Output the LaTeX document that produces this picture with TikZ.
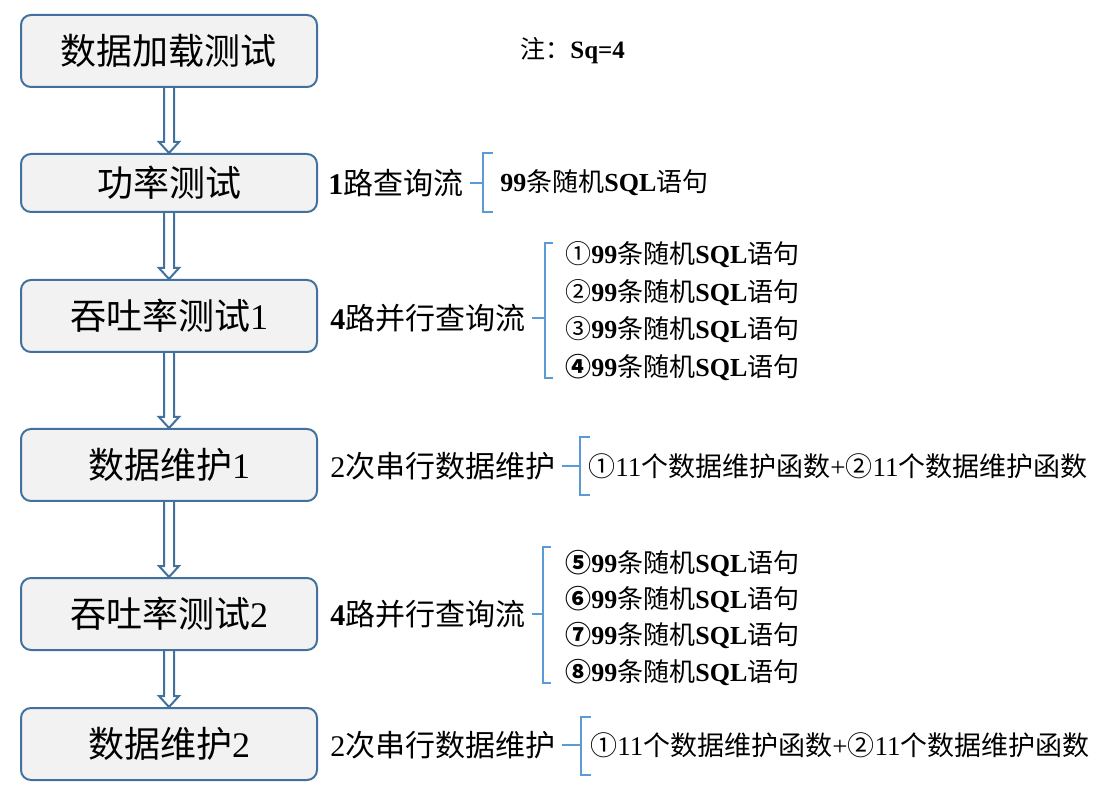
\documentclass[tikz,border=0pt]{standalone}
\usepackage{fontspec}
\setmainfont{Liberation Serif}
\newfontfamily\zh{Noto Sans CJK SC}
\usetikzlibrary{positioning,calc}

\definecolor{boxblue}{HTML}{41719C}
\definecolor{boxfill}{HTML}{F2F2F2}
\definecolor{braceblue}{HTML}{5B9BD5}

\newcommand{\sqlitem}[1]{{\zh #1}\textbf{99}{\zh 条随机}\textbf{SQL}{\zh 语句}}
\newcommand{\maintfn}{{\zh ①}11{\zh 个数据维护函数}+{\zh ②}11{\zh 个数据维护函数}}

\begin{document}
\begin{tikzpicture}[x=0.5pt,y=-0.5pt,on grid,
    stage/.style={draw=boxblue,fill=boxfill,line width=1pt,rounded corners=5pt,
      minimum width=148pt,minimum height=36pt,inner sep=0pt,
      font=\fontsize{18}{20}\selectfont\zh},
    side/.style={anchor=west,inner sep=3pt,font=\fontsize{15}{17}\selectfont},
    item/.style={anchor=west,inner sep=0pt,font=\fontsize{13}{15}\selectfont},
    flow/.style={draw=boxblue,line width=1pt,line join=miter,
      to path={($(\tikztostart.south)+(-5,0)$) -- ($(\tikztotarget.north)+(-5,-11)$)
        -- ($(\tikztotarget.north)+(-10,-11)$) -- (\tikztotarget.north)
        -- ($(\tikztotarget.north)+(10,-11)$) -- ($(\tikztotarget.north)+(5,-11)$)
        -- ($(\tikztostart.south)+(5,0)$)}},
    brace/.style={draw=braceblue,line width=1pt}]
    \useasboundingbox (0,0) rectangle (1114,796);

    	% stages
    	\node[stage] (load) at (169,51) {数据加载测试};
    	\node[stage,minimum height=29pt] (power) [below=66pt of load] {功率测试};
    	\node[stage] (thru1) [below=66.5pt of power] {吞吐率测试{\rmfamily 1}};
    	\node[stage] (maint1) [below=74.5pt of thru1] {数据维护{\rmfamily 1}};
    	\node[stage] (thru2) [below=74.5pt of maint1] {吞吐率测试{\rmfamily 2}};
    	\node[stage] (maint2) [below=65pt of thru2] {数据维护{\rmfamily 2}};

    	\node[item,font=\fontsize{12.5}{14}\selectfont] (note) at (520,51) {{\zh 注：}\textbf{Sq=4}};

    	% streams
    	\node[side] (q1) at (322,183) {\textbf{1}{\zh 路查询流}};
    	\node[side] (q2) at (324,318) {\textbf{4}{\zh 路并行查询流}};
    	\node[side] (m1) at (324,466) {2{\zh 次串行数据维护}};
    	\node[side] (q3) at (324,614) {\textbf{4}{\zh 路并行查询流}};
    	\node[side] (m2) at (324,745) {2{\zh 次串行数据维护}};

    	% statements
    	\node[item] (s0) at (500,183) {\textbf{99}{\zh 条随机}\textbf{SQL}{\zh 语句}};
    	\node[item] (s1) at (565,255) {\sqlitem{①}};
    	\node[item,below=18.7pt of s1.west,anchor=west] (s2) {\sqlitem{②}};
    	\node[item,below=18.7pt of s2.west,anchor=west] (s3) {\sqlitem{③}};
    	\node[item,below=18.7pt of s3.west,anchor=west] (s4) {\sqlitem{\bfseries ④}};
    	\node[item] (s5) at (565,563) {\sqlitem{\bfseries ⑤}};
    	\node[item,below=18.2pt of s5.west,anchor=west] (s6) {\sqlitem{\bfseries ⑥}};
    	\node[item,below=18.2pt of s6.west,anchor=west] (s7) {\sqlitem{\bfseries ⑦}};
    	\node[item,below=18.2pt of s7.west,anchor=west] (s8) {\sqlitem{\bfseries ⑧}};
    	\node[item,font=\fontsize{13.5}{15}\selectfont] (f1) at (588,466) {\maintfn};
    	\node[item,font=\fontsize{13.5}{15}\selectfont] (f2) at (590,745) {\maintfn};

    	% brackets
    	\coordinate (b1t) at (483,153); \coordinate (b1b) at (483,212);
    	\coordinate (b2t) at (545,243); \coordinate (b2b) at (545,378);
    	\coordinate (b3t) at (580,437); \coordinate (b3b) at (580,495);
    	\coordinate (b4t) at (543,547); \coordinate (b4b) at (543,683);
    	\coordinate (b5t) at (581,717); \coordinate (b5b) at (581,775);
    	\draw[brace] ([xshift=5pt]b1t) -- (b1t) -- (b1b) -- ([xshift=5pt]b1b);
    	\draw[brace] ([xshift=4pt]b2t) -- (b2t) -- (b2b) -- ([xshift=4pt]b2b);
    	\draw[brace] ([xshift=5pt]b3t) -- (b3t) -- (b3b) -- ([xshift=5pt]b3b);
    	\draw[brace] ([xshift=4pt]b4t) -- (b4t) -- (b4b) -- ([xshift=4pt]b4b);
    	\draw[brace] ([xshift=5pt]b5t) -- (b5t) -- (b5b) -- ([xshift=5pt]b5b);
    	\draw[brace] (q1.east) -- (q1.east -| b1t);
    	\draw[brace] (q2.east) -- (q2.east -| b2t);
    	\draw[brace] (m1.east) -- (m1.east -| b3t);
    	\draw[brace] (q3.east) -- (q3.east -| b4t);
    	\draw[brace] (m2.east) -- (m2.east -| b5t);

    	% flow
    	\draw[flow] (load) to (power);
    	\draw[flow] (power) to (thru1);
    	\draw[flow] (thru1) to (maint1);
    	\draw[flow] (maint1) to (thru2);
    	\draw[flow] (thru2) to (maint2);
\end{tikzpicture}
\end{document}
